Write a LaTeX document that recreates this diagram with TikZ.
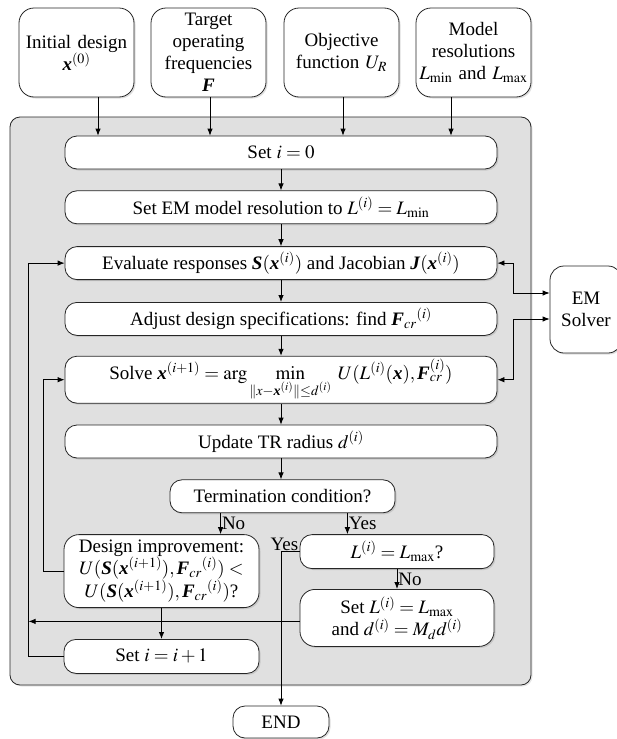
\documentclass[tikz,border=0pt]{standalone}
\usepackage{amsmath}
\usepackage{mathptmx}
\usepackage[no-math]{fontspec}
\setmainfont{Liberation Serif}
\usetikzlibrary{positioning, arrows.meta, shadows}

\newcommand{\bv}[1]{\textbf{\textit{#1}}}

\begin{document}
\begin{tikzpicture}[
    x = 1pt, y = -1pt,
    > = {Latex[length = 7pt, width = 5.5pt]},
    line width = .8pt,
    font = \fontsize{19}{22}\selectfont,
    stepbox/.style = {draw = black!85, fill = white, rounded corners = 12pt,
        minimum width = 432pt, minimum height = 33pt, inner sep = 1pt, align = center,
        drop shadow = {opacity = .25, shadow xshift = 1.5pt, shadow yshift = -1.5pt}},
    inbox/.style = {stepbox, rounded corners = 15pt, minimum width = 115pt,
        minimum height = 89pt, text width = 113pt, inner sep = 0pt},
    answer/.style = {inner sep = 1pt}
]
\useasboundingbox (0, 0) rectangle (616, 739);

% Loop frame
\draw[draw = black!85, fill = black!12, rounded corners = 10pt,
    drop shadow = {opacity = .2, shadow xshift = 1.5pt, shadow yshift = -1.5pt}]
    (10, 117) rectangle (531, 685);

% Inputs
\node[inbox] (init) at (76.5, 52.5)  {Initial design\\ $\bv{x}^{(0)}$};
\node[inbox] (freq) at (208.5, 52.5) {Target\\ operating\\ frequencies\\ $\bv{F}$};
\node[inbox] (obj)  at (341.5, 52.5) {Objective\\ function $U_R$};
\node[inbox] (res)  at (473.5, 52.5) {Model\\ resolutions\\ $L_{\min}$ and $L_{\max}$};

% Steps
\node[stepbox] (set0) at (281, 152.5) {Set $i = 0$};
\node[stepbox, below = 21pt of set0] (setL)  {Set EM model resolution to $L^{(i)} = L_{\min}$};
\node[stepbox, below = 22pt of setL] (eval)  {Evaluate responses $\bv{S}(\bv{x}^{(i)})$ and Jacobian $\bv{J}(\bv{x}^{(i)})$};
\node[stepbox, below = 22pt of eval] (adj)   {Adjust design specifications: find $\bv{F}_{cr}{}^{(i)}$};
\node[stepbox, below = 20pt of adj, minimum height = 47pt] (solve)
    {Solve $\bv{x}^{(i+1)} = \arg\min\limits_{\|x - \bv{x}^{(i)}\| \le d^{(i)}}\; U(L^{(i)}(\bv{x}), \bv{F}_{cr}^{(i)})$};
\node[stepbox, below = 21pt of solve] (upd)  {Update TR radius $d^{(i)}$};
\node[stepbox, below = 21pt of upd, minimum width = 225pt, xshift = 1.5pt] (term) {Termination condition?};

\node[stepbox, below = 21pt of term, xshift = -121pt, minimum width = 195pt,
      minimum height = 73pt, rounded corners = 15pt] (impr)
    {Design improvement:\\ $U(\bv{S}(\bv{x}^{(i+1)}),\bv{F}_{cr}{}^{(i)}) <$\\ $U(\bv{S}(\bv{x}^{(i+1)}),\bv{F}_{cr}{}^{(i)})$?};
\node[stepbox, below = 21pt of term, xshift = 114.5pt, minimum width = 194pt,
      minimum height = 34pt] (lmax) {$L^{(i)} = L_{\max}$?};
\node[stepbox, below = 20pt of lmax, minimum width = 194pt, minimum height = 57pt,
      rounded corners = 15pt] (setmax) {Set $L^{(i)} = L_{\max}$\\ and $d^{(i)} = M_d d^{(i)}$};
\node[stepbox, below = 31pt of impr, minimum width = 195pt, minimum height = 34pt] (inc) {Set $i = i + 1$};
\node[stepbox, minimum width = 96pt, minimum height = 32pt] (fin) at (281, 722) {END};

\node[stepbox, minimum width = 72pt, minimum height = 87pt, rounded corners = 14pt] (em)
    at (586, 309.5) {EM\\ Solver};

% Inputs into the loop
\draw[->] ([xshift = 21.5pt]init.south) -- ([xshift = 21.5pt]init.south |- set0.north);
\draw[->] ([xshift = 1.5pt]freq.south)  -- ([xshift = 1.5pt]freq.south |- set0.north);
\draw[->] ([xshift = 1.5pt]obj.south)   -- ([xshift = 1.5pt]obj.south |- set0.north);
\draw[->] ([xshift = -22.5pt]res.south) -- ([xshift = -22.5pt]res.south |- set0.north);

% Main flow
\draw[->] (set0)  -- (setL);
\draw[->] (setL)  -- (eval);
\draw[->] (eval)  -- (adj);
\draw[->] (adj)   -- (solve);
\draw[->] (solve) -- (upd);
\draw[->] (upd)   -- (upd |- term.north);

\draw[->] ([xshift = 51pt]term.south west) -- ([xshift = 51pt]term.south west |- impr.north)
    node[midway, right, answer] {No};
\draw[->] ([xshift = -48pt]term.south east) -- ([xshift = -48pt]term.south east |- lmax.north)
    node[midway, right, answer] {Yes};
\draw[->] (lmax) -- (setmax) node[midway, right, answer] {No};
\draw[->] (lmax.west) -| (fin.north) node[pos = 0, above left, answer] {Yes};
\draw[->] (impr) -- (inc);

% Back loops
\draw[->] (inc.west) -- ++(-35, 0) coordinate (back) |- (eval.west);
\draw[->] ([yshift = -3.5pt]setmax.west) -- ([yshift = -3.5pt]setmax.west -| back);
\draw[->] (impr.west) -- ++(-20, 0) |- (solve.west);

% EM solver
\draw[<->] (eval.east)  -- ++(16, 0) |- ([yshift = 16.5pt]em.west);
\draw[<->] (solve.east) -- ++(16, 0) |- ([yshift = -9.5pt]em.west);

\end{tikzpicture}
\end{document}
